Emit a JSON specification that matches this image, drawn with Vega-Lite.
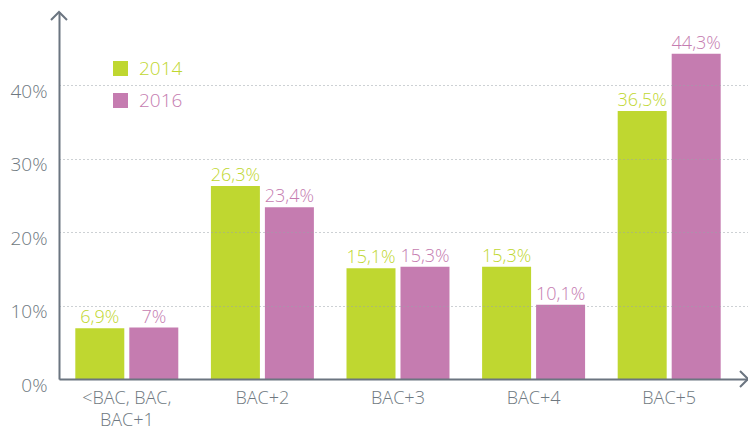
{
  "$schema": "https://vega.github.io/schema/vega-lite/v6.json",
  "width": 689,
  "height": 367,
  "autosize": {"type": "none"},
  "padding": {"left": 59, "top": 12, "right": 0, "bottom": 53},
  "config": {
    "view": {"stroke": null},
    "font": "Open Sans",
    "axis": {"labelFont": "Open Sans", "labelFontWeight": 300},
    "legend": {"labelFont": "Open Sans", "labelFontWeight": 300}
  },
  "layer": [
    {
      "data": {
        "values": [
          {"niveau": "<BAC, BAC, BAC+1", "annee": "2014", "valeur": 6.9},
          {"niveau": "<BAC, BAC, BAC+1", "annee": "2016", "valeur": 7.0},
          {"niveau": "BAC+2", "annee": "2014", "valeur": 26.3},
          {"niveau": "BAC+2", "annee": "2016", "valeur": 23.4},
          {"niveau": "BAC+3", "annee": "2014", "valeur": 15.1},
          {"niveau": "BAC+3", "annee": "2016", "valeur": 15.3},
          {"niveau": "BAC+4", "annee": "2014", "valeur": 15.3},
          {"niveau": "BAC+4", "annee": "2016", "valeur": 10.1},
          {"niveau": "BAC+5", "annee": "2014", "valeur": 36.5},
          {"niveau": "BAC+5", "annee": "2016", "valeur": 44.3}
        ]
      },
      "transform": [
        {"calculate": "replace(format(datum.valeur, '.1~f'), '.', ',') + '%'", "as": "etiquette"}
      ],
      "encoding": {
        "x": {
          "field": "niveau",
          "type": "nominal",
          "sort": null,
          "title": null,
          "scale": {"paddingInner": 0, "paddingOuter": 0.0406, "align": 0},
          "axis": {
            "labelAngle": 0,
            "labelFontSize": 18,
            "labelColor": "#6e7880",
            "labelPadding": 10,
            "labelLineHeight": 22,
            "labelExpr": "datum.value == '<BAC, BAC, BAC+1' ? ['<BAC, BAC,', 'BAC+1'] : datum.value",
            "ticks": false,
            "domainColor": "#6b7580",
            "domainWidth": 2,
            "grid": false,
            "zindex": 1
          }
        },
        "xOffset": {
          "field": "annee",
          "type": "nominal",
          "scale": {"paddingInner": 0.0926, "paddingOuter": 0.302}
        },
        "y": {
          "field": "valeur",
          "type": "quantitative",
          "title": null,
          "scale": {"domain": [0, 50], "nice": false},
          "axis": {
            "values": [0, 10, 20, 30, 40],
            "labelExpr": "datum.value + '%'",
            "labelFontSize": 19,
            "labelColor": "#6e7880",
            "labelPadding": 12,
            "labelOffset": 6,
            "ticks": false,
            "domainColor": "#6b7580",
            "domainWidth": 2,
            "grid": true,
            "gridColor": "#9aa2a8",
            "gridDash": [1, 3],
            "gridWidth": 1,
            "zindex": 1
          }
        },
        "color": {
          "field": "annee",
          "type": "nominal",
          "scale": {"domain": ["2014", "2016"], "range": ["#bfd730", "#c57cb0"]},
          "legend": {
            "title": null,
            "orient": "none",
            "legendX": 52,
            "legendY": 47,
            "padding": 0,
            "symbolType": "square",
            "symbolSize": 225,
            "symbolStrokeWidth": 0,
            "symbolOpacity": 1,
            "labelFontSize": 19,
            "labelOffset": 9,
            "rowPadding": 12,
            "encode": {
              "labels": {"update": {"fill": {"scale": "color", "field": "value"}}}
            }
          }
        }
      },
      "layer": [
        {"mark": {"type": "bar", "opacity": 1}},
        {
          "mark": {"type": "text", "fontSize": 18, "fontWeight": 300, "baseline": "alphabetic", "dy": -5},
          "encoding": {"text": {"field": "etiquette"}}
        }
      ]
    },
    {
      "data": {
        "values": [
          {"ax": 0, "ay": 50, "sens": "haut"},
          {"ax": 1, "ay": 0, "sens": "droite"}
        ]
      },
      "mark": {"type": "point", "filled": false, "size": 256, "strokeWidth": 2, "color": "#6b7580", "opacity": 1},
      "encoding": {
        "x": {"field": "ax", "type": "quantitative", "scale": {"domain": [0, 1], "nice": false}, "axis": null},
        "y": {"field": "ay", "type": "quantitative"},
        "shape": {
          "field": "sens",
          "type": "nominal",
          "scale": {"domain": ["haut", "droite"], "range": ["M-1,1L0,0L1,1", "M-1,-1L0,0L-1,1"]},
          "legend": null
        }
      }
    }
  ],
  "resolve": {"scale": {"x": "independent"}}
}
